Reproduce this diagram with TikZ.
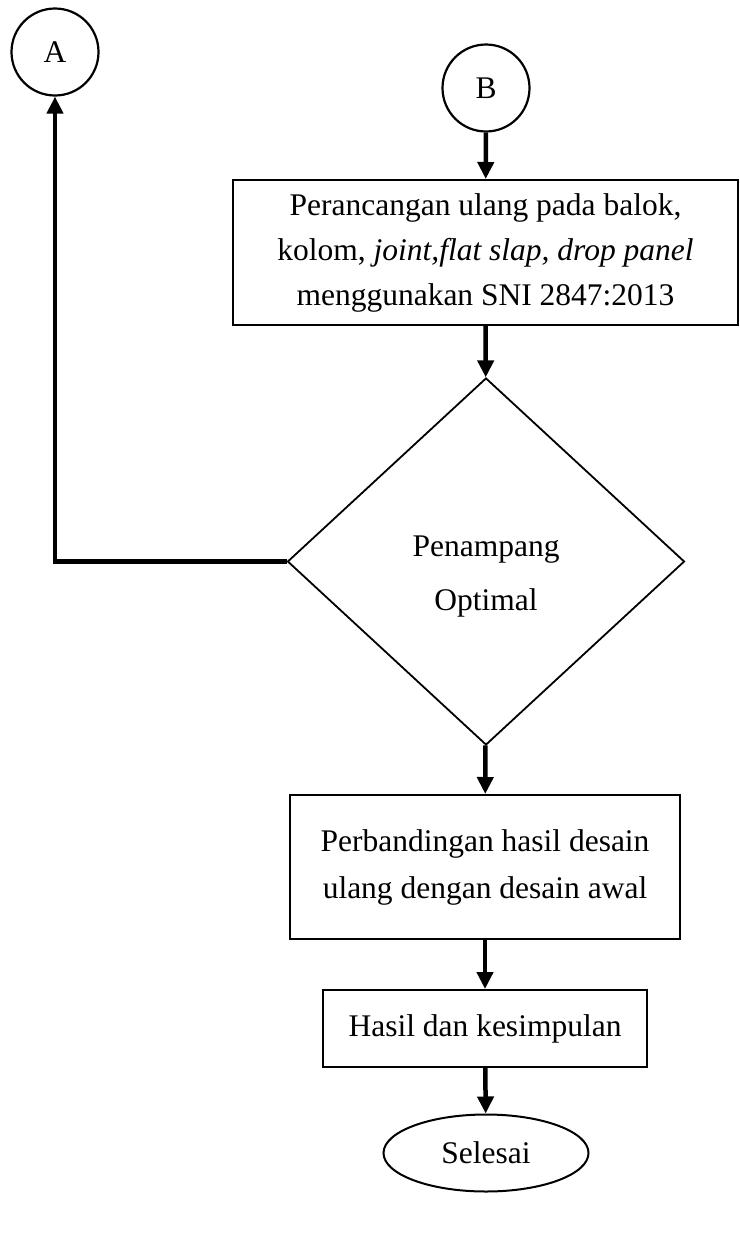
\documentclass[tikz,border=0pt]{standalone}
\usepackage{fontspec}
\setmainfont{Liberation Serif}
\usetikzlibrary{shapes,arrows.meta,positioning}

\begin{document}
\begin{tikzpicture}[x=1pt, y=-1pt, font=\fontsize{31.5}{45}\selectfont]
    % Define styles
    \tikzstyle{conn} = [circle, draw=black, line width=2.2pt, minimum size=87pt, inner sep=0pt]
    \tikzstyle{process} = [rectangle, draw=black, line width=2pt, align=center, inner sep=0pt]
    \tikzstyle{decision} = [diamond, draw=black, line width=1.8pt, align=center, inner sep=0pt, minimum width=397pt, minimum height=367pt]
    \tikzstyle{terminal} = [ellipse, draw=black, line width=2pt, minimum width=205pt, minimum height=77pt, inner sep=0pt]
    \tikzstyle{arrow} = [line width=4.5pt, -{Triangle[length=17pt, width=16pt]}]

    \useasboundingbox (0,0) rectangle (739,1237);

    % Nodes
    \node [conn] (A) at (55,52) {A};
    \node [conn] (B) at (486,88) {B};
    \node [process, minimum width=505pt, minimum height=145pt] (redesign) at (485.5,252.5)
        {Perancangan ulang pada balok,\\ kolom, \textit{joint,flat slap, drop panel}\\ menggunakan SNI 2847:2013};
    \node [decision, font=\fontsize{31.5}{54}\selectfont] (optimal) at (486,561.5) {\rule{0pt}{50pt}Penampang\\ Optimal};
    \node [process, minimum width=390pt, minimum height=144pt, font=\fontsize{31.5}{47}\selectfont] (compare) at (485,867)
        {Perbandingan hasil desain\\ ulang dengan desain awal};
    \node [process, minimum width=324pt, minimum height=77pt] (result) at (485,1028.5) {Hasil dan kesimpulan};
    \node [terminal] (finish) at (486,1153) {Selesai};

    % Arrows
    \draw [arrow] (B) -- (redesign);
    \draw [arrow] (redesign) -- (optimal);
    \draw [arrow] (optimal.west) -| (A.south);
    \draw [arrow] (optimal) -- (compare);
    \draw [arrow] (compare) -- (result);
    \draw [arrow] (result) -- (finish);
\end{tikzpicture}
\end{document}
